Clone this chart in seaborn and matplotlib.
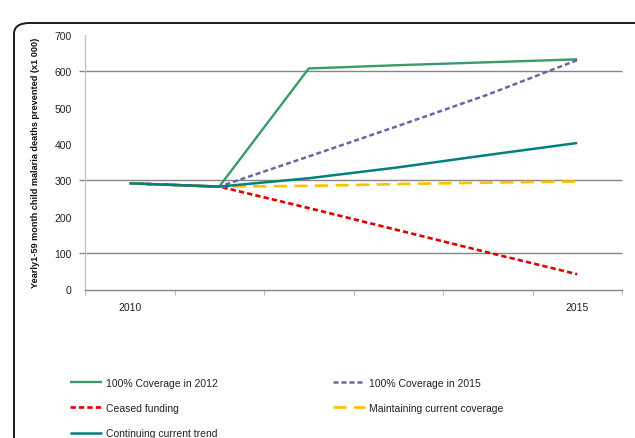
import matplotlib
matplotlib.use("Agg")
import matplotlib.pyplot as plt
from matplotlib.patches import FancyBboxPatch
import numpy as np
import seaborn as sns

sns.set_theme(style="white")
plt.rcParams["font.family"] = ["Liberation Sans", "DejaVu Sans"]

# data (x1 000 deaths prevented)
years = [2010, 2011, 2012, 2013, 2014, 2015]
year_labels = ["2010", "", "", "", "", "2015"]
cov_2012 = [292, 283, 608, 617, 625, 633]
cov_2015 = [292, 283, 366, 450, 536, 631]
ceased = [292, 283, 224, 163, 102, 42]
maintain = [292, 283, 285, 290, 294, 297]
trend = [292, 283, 306, 336, 370, 403]
grid_values = [100, 300, 600]

series = [
    ("100% Coverage in 2012", cov_2012, "#3a9a68", 1.7, None),
    ("100% Coverage in 2015", cov_2015, "#6a66a6", 1.8, (2.0, 1.2)),
    ("Ceased funding", ceased, "#e00000", 1.9, (2.0, 1.2)),
    ("Maintaining current coverage", maintain, "#ffc000", 1.9, (5.0, 2.8)),
    ("Continuing current trend", trend, "#00807f", 1.8, None),
]

fig = plt.figure(figsize=(6.35, 4.39), dpi=100)
ax = fig.add_axes([85 / 635, 1 - 290.5 / 439, 537 / 635, 254.5 / 439])

# outer rounded frame of the chart
frame = FancyBboxPatch((14 / 635, -0.1), 1.2, 1.0727 - 12 / 439,
                       boxstyle="round,pad=0,rounding_size=0.025",
                       transform=fig.transFigure, facecolor="none",
                       edgecolor="#1a1a1a", linewidth=1.4, clip_on=False)
fig.patches.append(frame)

ax.hlines(grid_values, -0.012, 1, transform=ax.get_yaxis_transform(),
          color="#858585", linewidth=1.0, clip_on=False, zorder=1)

handles = {}
for name, vals, color, lw, dash in series:
    sns.lineplot(x=years, y=vals, ax=ax, color=color, linewidth=lw,
                 label=name, legend=False, zorder=3)
    line = ax.get_lines()[-1]
    if dash is not None:
        line.set_dashes(dash)
    line.set_solid_capstyle("butt")
    line.set_dash_capstyle("butt")
    handles[name] = line

ax.set_xlim(years[0] - 0.5, years[-1] + 0.5)
ax.set_ylim(0, 700)
ax.set_xticks(years)
ax.set_xticklabels(year_labels)
ax.set_xticks(np.arange(years[0] - 0.5, years[-1] + 1), minor=True)
ax.set_yticks(np.arange(0, 701, 100))
ax.tick_params(axis="x", which="major", length=0, pad=9, labelsize=7.5, labelcolor="#222222")
ax.tick_params(axis="x", which="minor", length=3.5, width=0.8, color="#b8b8b8", bottom=True)
ax.tick_params(axis="y", length=0, pad=9.5, labelsize=7.5, labelcolor="#222222")

for side in ["top", "right"]:
    ax.spines[side].set_visible(False)
ax.spines["left"].set_color("#c4c4c4")
ax.spines["left"].set_linewidth(1.0)
ax.spines["bottom"].set_color("#858585")
ax.spines["bottom"].set_linewidth(1.0)

ax.set_ylabel("Yearly1-59 month child malaria deaths prevented (x1 000)",
              fontsize=6.6, fontweight="bold", color="#111111")
ax.yaxis.set_label_coords(-0.083, 0.5)

# legend in two columns laid out like the original
col1 = ["100% Coverage in 2012", "Ceased funding", "Continuing current trend"]
col2 = ["100% Coverage in 2015", "Maintaining current coverage"]
leg_kw = dict(loc="upper left", frameon=False, fontsize=7.5, handlelength=3.1,
              handletextpad=0.35, labelspacing=1.45, borderpad=0, borderaxespad=0,
              bbox_transform=fig.transFigure, labelcolor="#222222")
leg1 = ax.legend([handles[n] for n in col1], col1,
                 bbox_to_anchor=(70 / 635, 1 - 379 / 439), **leg_kw)
ax.add_artist(leg1)
ax.legend([handles[n] for n in col2], col2,
          bbox_to_anchor=(333 / 635, 1 - 379 / 439), **leg_kw)

fig.savefig("out.png", dpi=100)
